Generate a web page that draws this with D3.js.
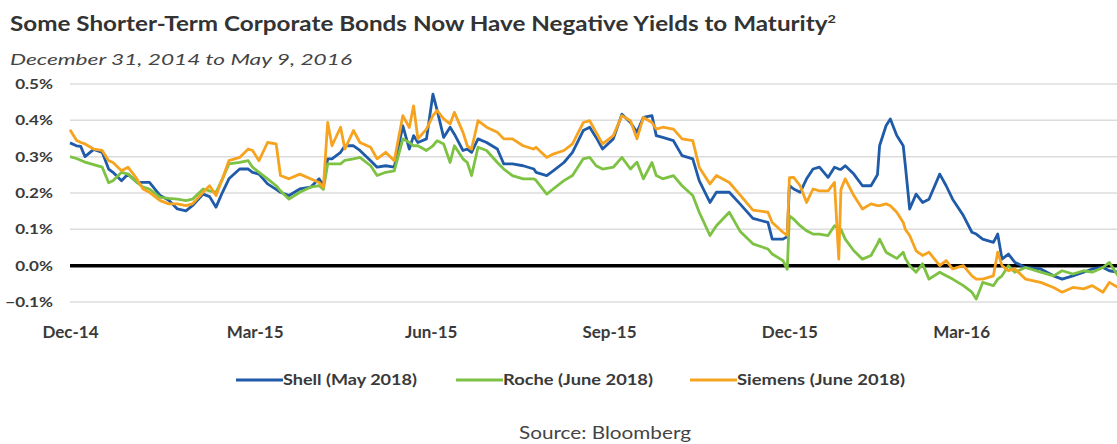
<!DOCTYPE html>
<html>
<head>
<meta charset="utf-8">
<script src="https://cdn.jsdelivr.net/npm/d3@7"></script>
<style>
  body { margin: 0; background: #fff; }
  svg text { font-family: Lato, "Open Sans", sans-serif; }
</style>
</head>
<body>
<div id="chart"></div>
<script>
// Yield to maturity (%), sampled off the chart
const dates = [
  "2014-12-31","2015-01-03","2015-01-05","2015-01-07","2015-01-11","2015-01-15","2015-01-18","2015-01-20",
  "2015-01-24","2015-01-27","2015-01-31","2015-02-03","2015-02-06","2015-02-11","2015-02-15","2015-02-19",
  "2015-02-23","2015-02-26","2015-03-03","2015-03-06","2015-03-09","2015-03-12","2015-03-15","2015-03-20",
  "2015-03-24","2015-03-26","2015-03-29","2015-04-02","2015-04-06","2015-04-08","2015-04-12","2015-04-17",
  "2015-04-22","2015-04-26","2015-04-28","2015-04-30","2015-05-02","2015-05-06","2015-05-08","2015-05-12",
  "2015-05-15","2015-05-20","2015-05-23","2015-05-27","2015-05-31","2015-06-04","2015-06-07","2015-06-09",
  "2015-06-11","2015-06-15","2015-06-18","2015-06-20","2015-06-23","2015-06-26","2015-06-28","2015-07-02",
  "2015-07-04","2015-07-06","2015-07-09","2015-07-13","2015-07-18","2015-07-21","2015-07-25","2015-07-30",
  "2015-08-04","2015-08-05","2015-08-10","2015-08-13","2015-08-18","2015-08-22","2015-08-27","2015-08-30",
  "2015-09-02","2015-09-05","2015-09-10","2015-09-14","2015-09-18","2015-09-21","2015-09-24","2015-09-28",
  "2015-09-30","2015-10-03","2015-10-08","2015-10-12","2015-10-17","2015-10-20","2015-10-25","2015-10-28",
  "2015-11-03","2015-11-08","2015-11-14","2015-11-21","2015-11-23","2015-11-28","2015-11-30","2015-12-01",
  "2015-12-03","2015-12-06","2015-12-09","2015-12-12","2015-12-15","2015-12-19","2015-12-22","2015-12-24",
  "2015-12-25","2015-12-27","2015-12-31","2016-01-04","2016-01-08","2016-01-11","2016-01-12","2016-01-15",
  "2016-01-17","2016-01-20","2016-01-23","2016-01-24","2016-01-26","2016-01-29","2016-02-01","2016-02-04",
  "2016-02-09","2016-02-12","2016-02-15","2016-02-20","2016-02-24","2016-02-26","2016-02-29","2016-03-05",
  "2016-03-07","2016-03-09","2016-03-12","2016-03-15","2016-03-20","2016-03-27","2016-04-02","2016-04-06",
  "2016-04-11","2016-04-16","2016-04-20","2016-04-25","2016-04-28","2016-05-02","2016-05-09"
];

const shell = [
  .338,.330,.328,.300,.320,.312,.266,.257,.234,.252,.230,.229,.229,.193,.180,.156,
  .151,.165,.197,.190,.161,.202,.239,.266,.266,.257,.252,.225,.210,.202,.193,.211,
  .216,.239,.220,.294,.294,.312,.330,.330,.317,.289,.271,.275,.271,.385,.321,.358,
  .339,.349,.472,.427,.353,.381,.362,.317,.321,.312,.349,.339,.321,.280,.280,.275,
  .266,.257,.248,.261,.284,.312,.372,.381,.353,.321,.349,.417,.394,.367,.408,.413,
  .358,.353,.344,.303,.294,.234,.174,.202,.202,.170,.130,.119,.073,.073,.080,.220,
  .211,.202,.239,.266,.271,.243,.271,.266,.265,.275,.252,.220,.220,.250,.330,.385,
  .404,.358,.330,.275,.156,.197,.174,.183,.252,.220,.183,.138,.092,.087,.073,.064,
  .087,.018,.032,.009,-.005,-.009,-.028,-.037,-.028,-.018,-.009,-.005,-.014,-.018,-.020
];

const roche = [
  .300,.295,.290,.285,.278,.271,.228,.234,.257,.252,.230,.216,.211,.188,.185,.183,
  .179,.183,.211,.206,.202,.239,.280,.284,.289,.271,.257,.239,.220,.206,.183,.202,
  .216,.220,.210,.280,.280,.280,.290,.294,.298,.275,.248,.257,.261,.349,.339,.330,
  .330,.317,.330,.344,.335,.284,.330,.294,.284,.248,.326,.317,.284,.266,.248,.239,
  .239,.235,.197,.211,.234,.248,.294,.298,.275,.266,.271,.298,.266,.285,.239,.284,
  .248,.239,.248,.220,.193,.147,.083,.110,.147,.095,.060,.046,.032,.014,-.010,.137,
  .128,.110,.096,.087,.087,.083,.110,.101,.100,.073,.041,.018,.028,.060,.073,.037,
  .030,.020,.037,.020,.000,-.018,.005,-.037,-.018,-.028,-.037,-.055,-.073,-.092,-.046,-.055,
  -.037,-.028,.000,-.018,-.005,-.018,-.028,-.014,-.023,-.014,-.018,-.005,.009,-.028,-.020
];

const siemens = [
  .374,.345,.339,.335,.321,.317,.289,.284,.261,.271,.240,.211,.202,.179,.170,.170,
  .165,.170,.202,.220,.193,.239,.289,.298,.321,.317,.289,.339,.335,.248,.239,.252,
  .239,.229,.216,.394,.330,.381,.321,.372,.339,.326,.294,.312,.289,.413,.380,.440,
  .349,.376,.413,.427,.404,.390,.422,.367,.330,.321,.399,.381,.367,.349,.349,.330,
  .321,.326,.298,.307,.317,.335,.394,.399,.367,.335,.358,.413,.399,.349,.408,.394,
  .376,.381,.376,.349,.344,.271,.225,.248,.229,.195,.153,.147,.119,.092,.083,.242,
  .243,.220,.174,.211,.206,.206,.229,.018,.210,.239,.193,.156,.170,.165,.165,.170,
  .165,.147,.119,.100,.083,.041,.028,.037,.000,.014,-.009,.000,-.028,-.037,-.037,-.028,
  .037,.000,-.014,-.009,-.037,-.046,-.060,-.073,-.060,-.064,-.055,-.073,-.046,-.060,-.055
];

const seriesNames = ["Shell (May 2018)", "Roche (June 2018)", "Siemens (June 2018)"];
const seriesColors = ["#1f5ba8", "#7dc242", "#f6a31f"];
const yTicks = [-0.1, 0, 0.1, 0.2, 0.3, 0.4, 0.5];
// the source chart labels every ~60th trading day, so the labels don't sit on month starts
const xTickDates = ["2014-12-31", "2015-03-27", "2015-06-17", "2015-09-08", "2015-12-01", "2016-02-19"];
const xTickLabels = ["Dec-14", "Mar-15", "Jun-15", "Sep-15", "Dec-15", "Mar-16"];

const W = 1117, H = 444;
const parse = d3.timeParse("%Y-%m-%d");

const svg = d3.select("#chart").append("svg")
  .attr("width", W)
  .attr("height", H)
  .style("display", "block");

// Scales: the original picture is cropped on the right, so May 9 falls past the edge
const x = d3.scaleTime()
  .domain([parse("2014-12-31"), parse("2016-05-09")])
  .range([70, 1133]);
const y = d3.scaleLinear().domain([-0.1, 0.5]).range([302, 84]);

// Title + subtitle
const title = svg.append("text")
  .attr("x", 10).attr("y", 31)
  .attr("font-size", 20).attr("font-weight", 700).attr("fill", "#333")
  .attr("textLength", 826).attr("lengthAdjust", "spacingAndGlyphs");
title.append("tspan").text("Some Shorter-Term Corporate Bonds Now Have Negative Yields to Maturity");
title.append("tspan").attr("font-size", 12).attr("dy", -8).text("2");

svg.append("text")
  .attr("x", 10).attr("y", 65)
  .attr("font-size", 15).attr("font-style", "italic").attr("fill", "#444")
  .attr("textLength", 342).attr("lengthAdjust", "spacingAndGlyphs")
  .text("December 31, 2014 to May 9, 2016");

// Horizontal grid
svg.append("g")
  .selectAll("line")
  .data(yTicks.filter((d) => d !== 0))
  .join("line")
  .attr("x1", 70).attr("x2", W)
  .attr("y1", (d) => y(d)).attr("y2", (d) => y(d))
  .attr("stroke", "#dcdcdc")
  .attr("stroke-width", 1.5);

// Y axis labels (no line, no ticks)
const yAxis = svg.append("g")
  .attr("transform", "translate(70,0)")
  .call(d3.axisLeft(y).tickValues(yTicks).tickSize(0).tickPadding(0)
    .tickFormat((d) => d3.format(".1f")(d) + "%"));
yAxis.select(".domain").remove();
yAxis.selectAll("text")
  .attr("font-family", "Lato, sans-serif")
  .attr("font-size", 14).attr("font-weight", 700).attr("fill", "#3a3a3a")
  .attr("x", -17 / 1.22)
  .attr("transform", "scale(1.22,1)");

// X axis labels
const xAxis = svg.append("g")
  .attr("transform", "translate(0,302)")
  .call(d3.axisBottom(x).tickValues(xTickDates.map(parse)).tickSize(0).tickPadding(0)
    .tickFormat((d, i) => xTickLabels[i]));
xAxis.select(".domain").remove();
xAxis.selectAll("text")
  .attr("font-family", "Lato, sans-serif")
  .attr("font-size", 17).attr("font-weight", 700).attr("fill", "#3a3a3a")
  .attr("y", 36).attr("dy", null);

// Zero line
svg.append("line")
  .attr("x1", 70).attr("x2", W)
  .attr("y1", y(0)).attr("y2", y(0))
  .attr("stroke", "#000")
  .attr("stroke-width", 3.5);

// Lines
const line = d3.line()
  .x((d) => x(d.date))
  .y((d) => y(d.value));

const series = [shell, roche, siemens].map((vals, i) => ({
  name: seriesNames[i],
  color: seriesColors[i],
  values: vals.map((v, j) => ({ date: parse(dates[j]), value: v }))
}));

svg.append("g")
  .selectAll("path")
  .data(series)
  .join("path")
  .attr("fill", "none")
  .attr("stroke", (d) => d.color)
  .attr("stroke-width", 2.8)
  .attr("stroke-linejoin", "round")
  .attr("d", (d) => line(d.values));

// Legend
const legendX = [236, 456, 690];
const legendW = [134, 150, 168];
const legend = svg.append("g")
  .selectAll("g")
  .data(series)
  .join("g")
  .attr("transform", (d, i) => `translate(${legendX[i]},380)`);

legend.append("line")
  .attr("x1", 0).attr("x2", 47)
  .attr("stroke", (d) => d.color)
  .attr("stroke-width", 3);

legend.append("text")
  .attr("x", 47).attr("y", 5)
  .attr("font-size", 15).attr("font-weight", 700).attr("fill", "#3a3a3a")
  .attr("textLength", (d, i) => legendW[i]).attr("lengthAdjust", "spacingAndGlyphs")
  .text((d) => d.name);

// Source
svg.append("text")
  .attr("x", 605).attr("y", 439)
  .attr("text-anchor", "middle")
  .attr("font-family", "'Liberation Sans', Arial, sans-serif")
  .attr("font-size", 17).attr("fill", "#444")
  .attr("textLength", 172).attr("lengthAdjust", "spacingAndGlyphs")
  .text("Source: Bloomberg");
</script>
</body>
</html>
